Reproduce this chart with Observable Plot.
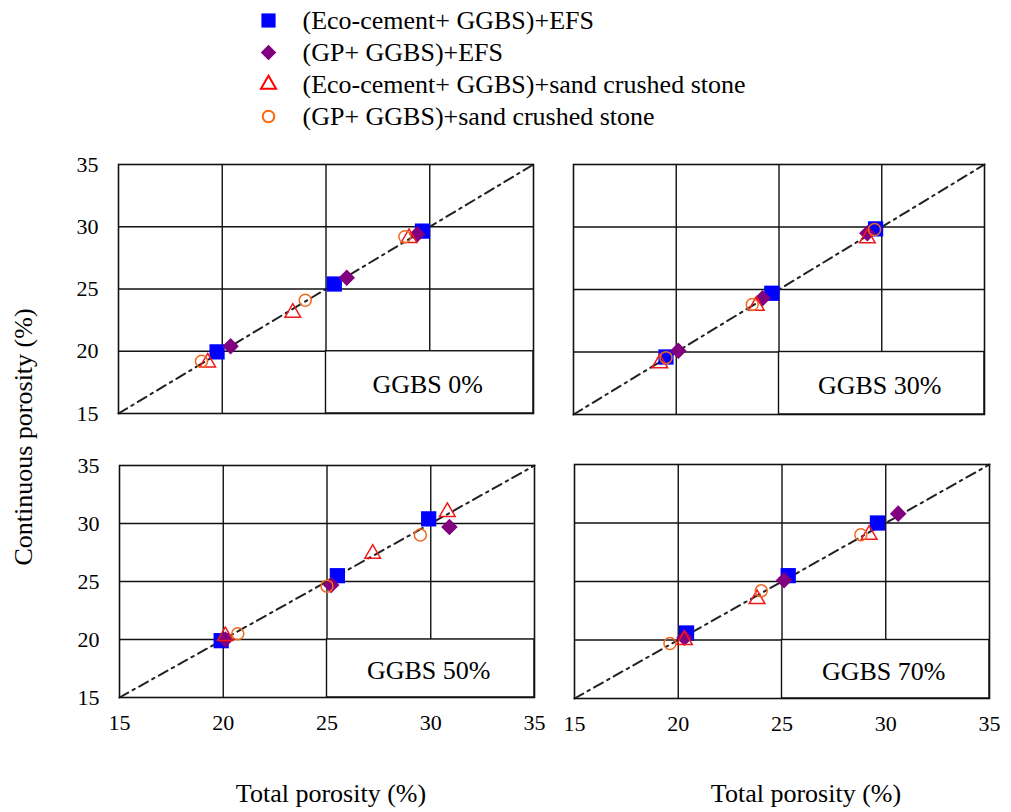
<!DOCTYPE html>
<html><head><meta charset="utf-8">
<script src="https://cdn.jsdelivr.net/npm/d3@7"></script>
<script src="https://cdn.jsdelivr.net/npm/@observablehq/plot@0.6"></script>
<style>
body{margin:0;background:#fff;}
#root{position:relative;width:1011px;height:812px;overflow:hidden;font-family:"Liberation Serif","LiberationSerif","Tinos","Times New Roman","DejaVu Serif",serif;color:#000;background:#fff;}
.box{position:absolute;}
.title{position:absolute;font-size:26px;white-space:nowrap;line-height:1;}
</style></head><body><div id="root"></div>
<script>
// ---- data ----
const seriesNames = ["(Eco-cement+ GGBS)+EFS", "(GP+ GGBS)+EFS", "(Eco-cement+ GGBS)+sand crushed stone", "(GP+ GGBS)+sand crushed stone"];
const panelLabels = ["GGBS 0%", "GGBS 30%", "GGBS 50%", "GGBS 70%"];
const axisTicks = [15, 20, 25, 30, 35];
const gridTicks = [20, 25, 30];
const diagonal = [15, 35];
// panel index of each point (3 points per panel)
const panelOf = [0,0,0, 1,1,1, 2,2,2, 3,3,3];
// Total porosity (x) and continuous porosity (y), %
const ecoEfsX  = [19.75, 25.4, 29.65,  19.5, 24.65, 29.7,  19.9, 25.5, 29.9,  20.4, 25.3, 29.6];
const ecoEfsY  = [19.95, 25.4, 29.65,  19.6, 24.7, 29.85,  19.9, 25.5, 30.4,  20.6, 25.5, 30.0];
const gpEfsX   = [20.4, 26.0, 29.4,    20.1, 24.2, 29.3,   20.1, 25.2, 30.9,  20.3, 25.1, 30.6];
const gpEfsY   = [20.4, 25.9, 29.4,    20.1, 24.3, 29.5,   20.0, 24.7, 29.7,  20.2, 25.1, 30.8];
const ecoSandX = [19.3, 23.4, 29.0,    19.2, 23.9, 29.3,   20.1, 27.2, 30.8,  20.3, 23.8, 29.2];
const ecoSandY = [19.1, 23.1, 29.1,    19.1, 23.7, 29.1,   20.3, 27.4, 31.0,  20.0, 23.5, 29.0];
const gpSandX  = [19.0, 24.0, 28.8,    19.5, 23.7, 29.65,  20.7, 25.0, 29.5,  19.6, 24.0, 28.8];
const gpSandY  = [19.2, 24.1, 29.2,    19.55, 23.8, 29.8,  20.5, 24.6, 29.0,  19.7, 24.2, 29.0];

// ---- styles ----
const BLUE = "#0000FF", PURPLE = "#800080", RED = "#F01818", ORANGE = "#F06820";
const FONT = "'Liberation Serif', 'LiberationSerif', Tinos, 'Times New Roman', 'DejaVu Serif', serif";
const root = document.getElementById("root");

function place(el, left, top) {
  const d = document.createElement("div");
  d.className = "box";
  d.style.left = left + "px";
  d.style.top = top + "px";
  d.appendChild(el);
  root.appendChild(d);
}

function panel(i, fx, fy, fw, fh, showX, showY) {
  const mL = 60, mT = 14, mR = 18, mB = showX ? 46 : 14;
  const idx = panelOf.map((p, j) => p === i ? j : -1).filter(j => j >= 0);
  const chart = Plot.plot({
    width: mL + fw + mR,
    height: mT + fh + mB,
    marginLeft: mL, marginTop: mT, marginRight: mR, marginBottom: mB,
    style: {fontFamily: FONT, fontSize: "22px", background: "transparent", overflow: "visible", maxWidth: "none", color: "#000"},
    x: {domain: [15, 35], ticks: axisTicks, tickSize: 0, tickPadding: 17, label: null, axis: showX ? "bottom" : null},
    y: {domain: [15, 35], ticks: axisTicks, tickSize: 0, tickPadding: 20, label: null, axis: showY ? "left" : null},
    marks: [
      Plot.ruleX(gridTicks, {stroke: "#111", strokeWidth: 1.4}),
      Plot.ruleY(gridTicks, {stroke: "#111", strokeWidth: 1.4}),
      Plot.rect([panelLabels[i]], {x1: () => 25, x2: () => 35, y1: () => 15, y2: () => 20, fill: "white", stroke: "#111", strokeWidth: 1.4}),
      Plot.line(diagonal, {x: d => d, y: d => d, stroke: "#222", strokeWidth: 2, strokeDasharray: "10,5,2.5,5"}),
      Plot.dot(idx, {x: j => ecoEfsX[j], y: j => ecoEfsY[j], symbol: "square", r: 8.6, fill: BLUE}),
      Plot.dot(idx, {x: j => gpEfsX[j], y: j => gpEfsY[j], symbol: "square", rotate: 45, r: 6.6, fill: PURPLE}),
      Plot.dot(idx, {x: j => ecoSandX[j], y: j => ecoSandY[j], symbol: "triangle", r: 5.8, fill: "none", stroke: RED, strokeWidth: 1.5}),
      Plot.dot(idx, {x: j => gpSandX[j], y: j => gpSandY[j], symbol: "circle", r: 6, fill: "none", stroke: ORANGE, strokeWidth: 1.5}),
      Plot.text([panelLabels[i]], {x: () => 29.9, y: () => 17.3, text: d => d, fontSize: 26, fontFamily: FONT, fill: "#000"}),
      Plot.frame({stroke: "#111", strokeWidth: 1.6})
    ]
  });
  place(chart, fx - mL, fy - mT);
}

panel(0, 118, 164, 415, 249, false, true);
panel(1, 573, 164, 411, 250, false, false);
panel(2, 119, 465, 415, 232, true, true);
panel(3, 574, 464, 415, 234, true, false);

// ---- legend ----
const legend = Plot.plot({
  width: 600, height: 140,
  margin: 0, marginLeft: 28,
  style: {fontFamily: FONT, fontSize: "26px", background: "transparent", overflow: "visible", maxWidth: "none", color: "#000"},
  y: {type: "band", domain: seriesNames, range: [3, 133], padding: 0, axis: null},
  marks: [
    Plot.dot([seriesNames[0]], {y: d => d, frameAnchor: "left", symbol: "square", r: 8, fill: BLUE}),
    Plot.dot([seriesNames[1]], {y: d => d, frameAnchor: "left", symbol: "square", rotate: 45, r: 6.2, fill: PURPLE}),
    Plot.dot([seriesNames[2]], {y: d => d, frameAnchor: "left", symbol: "triangle", r: 5.6, fill: "none", stroke: "#FF0000", strokeWidth: 2}),
    Plot.dot([seriesNames[3]], {y: d => d, frameAnchor: "left", symbol: "circle", r: 5.8, fill: "none", stroke: "#FF6600", strokeWidth: 2}),
    Plot.text(seriesNames, {y: d => d, text: d => d, frameAnchor: "left", dx: 34, textAnchor: "start", fontSize: 26, fontFamily: FONT, fill: "#000"})
  ]
});
place(legend, 240, 0);

// ---- axis titles ----
function title(text, left, top, rotate) {
  const d = document.createElement("div");
  d.className = "title";
  d.textContent = text;
  d.style.left = left + "px";
  d.style.top = top + "px";
  d.style.transform = rotate ? "translate(-50%,-50%) rotate(-90deg)" : "translateX(-50%)";
  root.appendChild(d);
}
title("Total porosity (%)", 331, 781, false);
title("Total porosity (%)", 806, 781, false);
title("Continuous porosity (%)", 24, 437, true);
</script></body></html>
